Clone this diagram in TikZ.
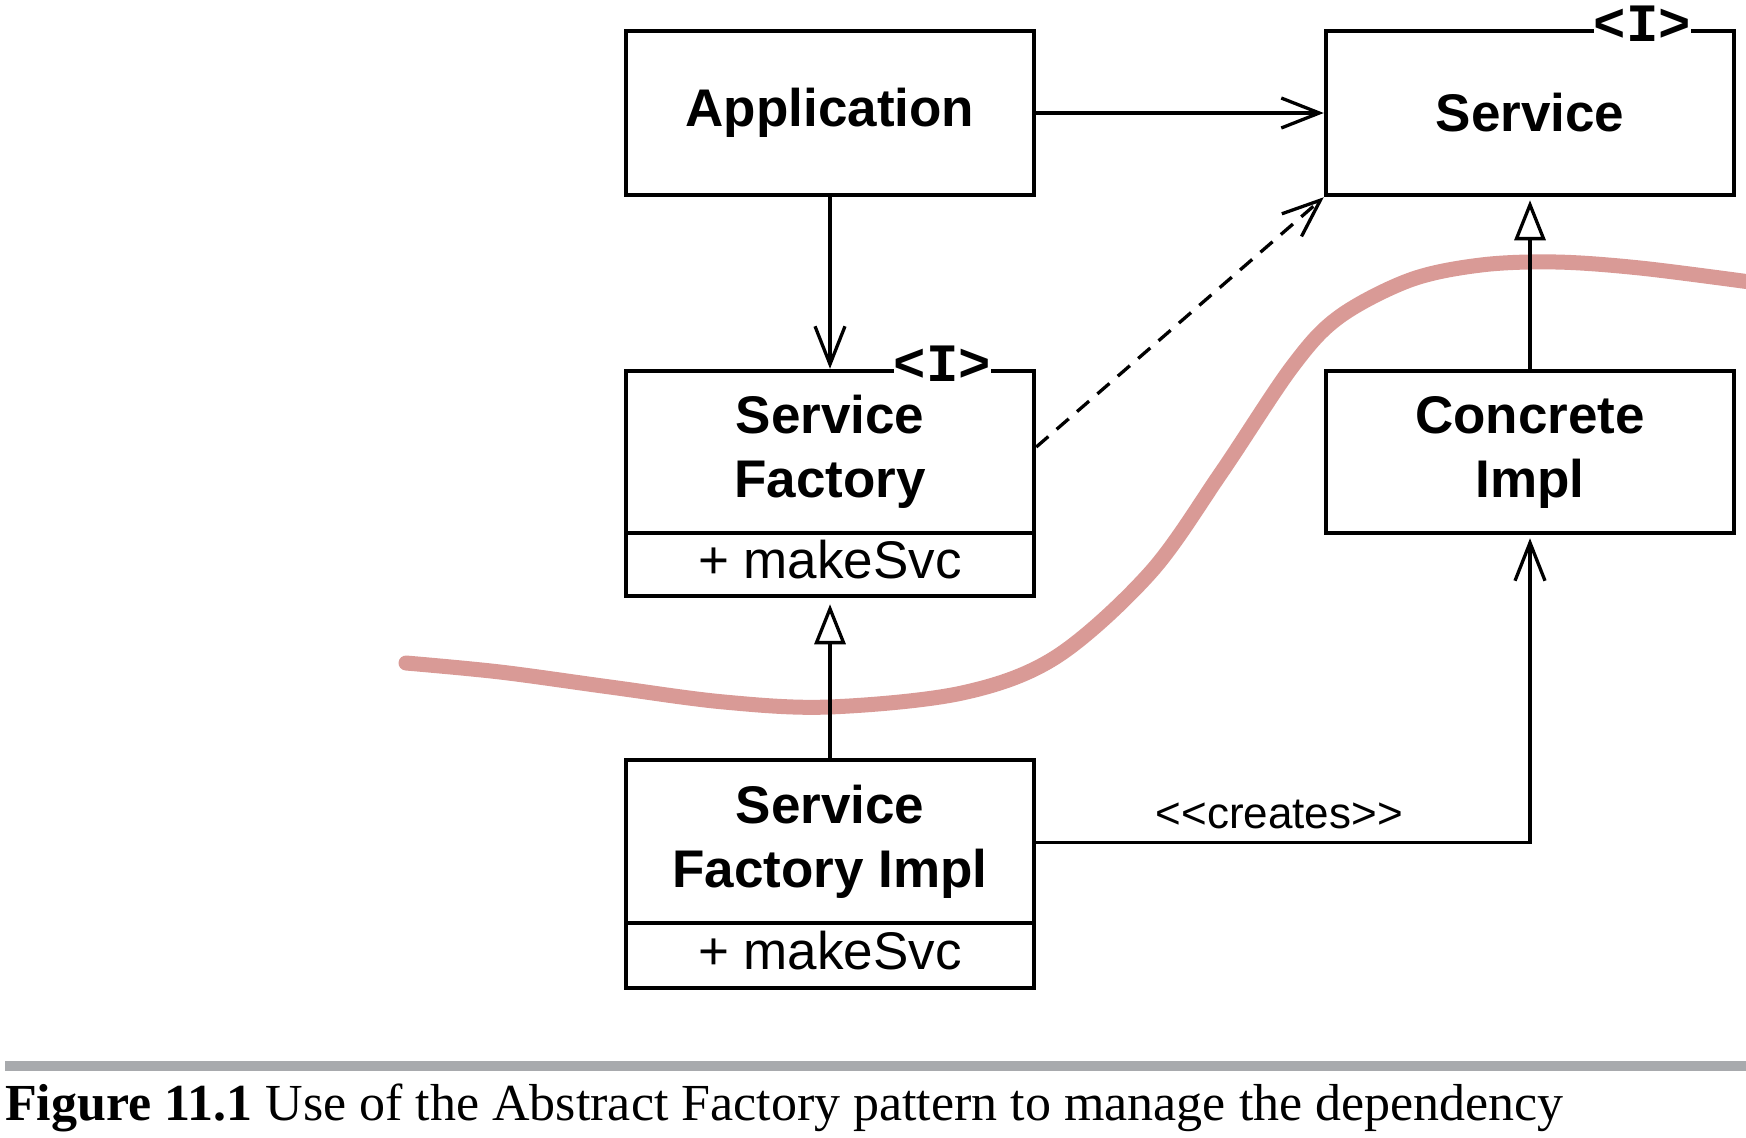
\documentclass[tikz,border=0pt]{standalone}
\usepackage{fontspec}
\setmainfont{Liberation Serif}
\setsansfont{Liberation Sans}
\setmonofont{Liberation Mono}
\usetikzlibrary{arrows.meta}
\definecolor{redline}{RGB}{217,154,150}
\definecolor{rulegray}{RGB}{168,170,173}
\begin{document}
\begin{tikzpicture}[x=1pt,y=-1pt,
  cls/.style={draw, line width=4.5pt, minimum width=408pt, inner sep=0pt, align=center,
    font=\sffamily\bfseries\fontsize{53}{64}\selectfont},
  meth/.style={draw, line width=4.5pt, minimum width=408pt, inner sep=0pt, text height=38pt, text depth=10pt,
    font=\sffamily\fontsize{53}{64}\selectfont},
  iface/.style={fill=white, inner sep=0pt, anchor=base, font=\ttfamily\bfseries\fontsize{54}{54}\selectfont},
  conn/.style={line width=3.3pt},
  openhead/.style={-{Straight Barb[length=38pt,width=30pt]}},
  genhead/.style={-{Triangle[length=40pt,width=31pt,fill=white]}},
  lbl/.style={inner sep=0pt, anchor=base, font=\sffamily\fontsize{44}{50}\selectfont}
]
\useasboundingbox (0,0) rectangle (1746,1138);

% boundary curve
\draw[redline, line width=15pt, line cap=round] plot[smooth, tension=0.55] coordinates {
  (406,663) (500,672) (610,687) (724,702) (829,707) (962,693) (1056,657) (1150,573)
  (1221,473) (1292,367) (1339,317) (1410,280) (1481,265) (1556,262) (1640,268) (1750,282)};

% class boxes
\node[cls, minimum height=164pt] (app) at (830,113) {Application};
\node[cls, minimum height=164pt] (svc) at (1530,113) {Service};
\node[cls, minimum height=162pt] (sf) at (830,452) {Service\\Factory};
\node[meth, minimum height=63pt] (sfm) at (830,564.5) {+ makeSvc};
\node[cls, minimum height=162pt] (ci) at (1530,452) {Concrete\\Impl};
\node[cls, minimum height=163pt] (sfi) at (830,841.5) {Service\\Factory Impl};
\node[meth, minimum height=65pt] (sfim) at (830,955.5) {+ makeSvc};

% interface markers
\node[iface] (svcI) at ([xshift=-94pt,yshift=-13pt]svc.north east) {<I>};
\node[iface] (sfI) at ([xshift=-94pt,yshift=-13pt]sf.north east) {<I>};

% connectors
\draw[conn, openhead] (app.east) -- (svc.west);
\draw[conn, openhead] (app.south) -- (sf.north);
\draw[conn, openhead, dash pattern=on 16pt off 11pt] ([yshift=5pt]sf.east) -- (svc.south west);
\draw[conn, genhead, shorten >=3pt] (ci.north) -- (svc.south);
\draw[conn, genhead, shorten >=6pt] (sfi.north) -- (sfm.south);
\draw[conn, openhead, shorten >=3pt] ([yshift=-1pt]sfi.east) -| (ci.south)
  node[lbl, pos=0.246, yshift=14pt] (creates) {<\kern0pt<creates>\kern0pt>};

% caption
\fill[rulegray] (5,1061) rectangle (1746,1071);
\node[anchor=base west, inner sep=0pt, font=\rmfamily\fontsize{52}{60}\selectfont] (cap) at (5,1120)
  {\textbf{Figure 11.1} Use of the Abstract Factory pattern to manage the dependency};
\end{tikzpicture}
\end{document}
